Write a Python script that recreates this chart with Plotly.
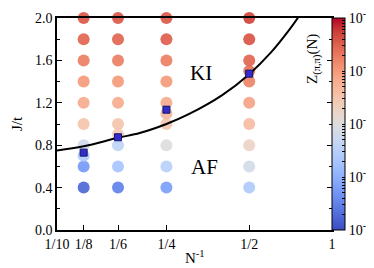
import plotly.graph_objects as go
import numpy as np

# ---- data ----
n_inv = [1/8]*10 + [1/6]*10 + [1/4]*10 + [1/2]*10
J_vals = ([0.4, 0.6, 0.7, 0.8, 1.0, 1.2, 1.4, 1.6, 1.8, 2.0] +
          [0.4, 0.6, 0.8, 0.9, 1.0, 1.2, 1.4, 1.6, 1.8, 2.0] +
          [0.4, 0.6, 0.8, 1.0, 1.1, 1.2, 1.4, 1.6, 1.8, 2.0] +
          [0.4, 0.6, 0.8, 1.0, 1.2, 1.4, 1.5, 1.6, 1.8, 2.0])
log10_Z = ([-4.75, -4.25, -3.6, -3.2, -2.5, -2.2, -2.0, -1.75, -1.55, -1.45] +
           [-4.5, -3.7, -3.4, -2.6, -2.5, -2.2, -2.0, -1.75, -1.55, -1.45] +
           [-4.2, -3.5, -3.0, -2.55, -2.35, -2.2, -2.0, -1.75, -1.5, -1.45] +
           [-3.6, -3.15, -2.75, -2.4, -2.1, -1.8, -1.65, -1.55, -1.42, -1.3])

crit_n_inv = [1/8, 1/6, 1/4, 1/2]
crit_J = [0.73, 0.875, 1.135, 1.475]

curve_n_inv = [0.1, 0.125, 1/6, 0.2, 0.25, 0.3, 0.4, 0.5, 0.6, 0.7, 0.76]
curve_J = [0.75, 0.79, 0.87, 0.915, 1.00, 1.09, 1.275, 1.47, 1.675, 1.89, 2.02]

x_tickvals = [0.1, 0.125, 1/6, 0.25, 0.5, 1.0]
x_ticktext = ["1/10", "1/8", "1/6", "1/4", "1/2", "1"]
cb_major = [-5, -4, -3, -2, -1]
cb_ticktext = ["10<sup>-5</sup>", "10<sup>-4</sup>", "10<sup>-3</sup>", "10<sup>-2</sup>", "10<sup>-1</sup>"]

coolwarm = [
    [0.0, "rgb(59,76,192)"], [0.0625, "rgb(77,104,215)"], [0.125, "rgb(98,130,234)"],
    [0.1875, "rgb(119,154,247)"], [0.25, "rgb(141,176,254)"], [0.3125, "rgb(163,194,255)"],
    [0.375, "rgb(184,208,249)"], [0.4375, "rgb(204,217,238)"], [0.5, "rgb(221,221,221)"],
    [0.5625, "rgb(236,211,197)"], [0.625, "rgb(245,196,173)"], [0.6875, "rgb(247,177,148)"],
    [0.75, "rgb(244,154,123)"], [0.8125, "rgb(236,127,99)"], [0.875, "rgb(222,96,77)"],
    [0.9375, "rgb(203,62,56)"], [1.0, "rgb(180,4,38)"]]

# colorbar ticks incl. minor
cb_tickvals, cb_text = [], []
for i, e in enumerate(cb_major):
    cb_tickvals.append(e); cb_text.append(cb_ticktext[i])
    if e < -1:
        for k in range(2, 10):
            cb_tickvals.append(e + np.log10(k)); cb_text.append("")

FONT = "Liberation Serif"
W, H = 374, 268
L, R, T, B = 49, 324, 10, 222

fig = go.Figure()
fig.add_trace(go.Scatter(
    x=n_inv, y=J_vals, mode="markers", cliponaxis=False,
    marker=dict(size=12, color=log10_Z, colorscale=coolwarm, cmin=-5, cmax=-1,
                opacity=0.92, line=dict(width=0),
                colorbar=dict(x=(324 - L) / (R - L), xanchor="left",
                              y=0.5, yanchor="middle",
                              len=1, lenmode="fraction", thickness=13,
                              xpad=0, ypad=0,
                              outlinecolor="black", outlinewidth=1,
                              tickvals=cb_tickvals, ticktext=cb_text,
                              ticks="inside", ticklen=3, tickcolor="black",
                              tickfont=dict(family=FONT, size=14, color="black"))),
    showlegend=False))
fig.add_trace(go.Scatter(
    x=curve_n_inv, y=curve_J, mode="lines", line=dict(color="black", width=2, shape="spline"),
    showlegend=False))
fig.add_trace(go.Scatter(
    x=crit_n_inv, y=crit_J, mode="markers", cliponaxis=False,
    marker=dict(symbol="square", size=7, color="rgb(50,45,200)",
                line=dict(color="rgb(20,20,110)", width=1)),
    showlegend=False))

fig.update_layout(
    width=W, height=H,
    margin=dict(l=L, r=W - R, t=T, b=H - B, autoexpand=False),
    plot_bgcolor="white", paper_bgcolor="white",
    font=dict(family=FONT, size=14, color="black"),
    xaxis=dict(type="log", range=[-1, 0], tickvals=x_tickvals, ticktext=x_ticktext,
               showgrid=False, zeroline=False, showline=True, linecolor="black", linewidth=1.5,
               mirror=True, ticks="inside", ticklen=5, tickcolor="black",
               tickfont=dict(family=FONT, size=14)),
    yaxis=dict(range=[0, 2.0], tickvals=[0, 0.4, 0.8, 1.2, 1.6, 2.0], tickformat=".1f",
               showgrid=False, zeroline=False, showline=True, linecolor="black", linewidth=1.5,
               mirror="ticks", ticks="inside", ticklen=5, tickcolor="black",
               minor=dict(dtick=0.2, ticks="inside", ticklen=3, tickcolor="black"),
               tickfont=dict(family=FONT, size=14)),
    annotations=[
        dict(text="KI", x=np.log10(0.334), y=1.48, xref="x", yref="y", showarrow=False,
             xanchor="center", yanchor="middle", font=dict(family=FONT, size=21)),
        dict(text="AF", x=np.log10(0.343), y=0.594, xref="x", yref="y", showarrow=False,
             xanchor="center", yanchor="middle", font=dict(family=FONT, size=21)),
        dict(text="J/t", x=(9 - L) / (R - L), y=0.5, xref="paper", yref="paper",
             xanchor="center", yanchor="middle",
             showarrow=False, textangle=-90, font=dict(family=FONT, size=15)),
        dict(text="N<sup>-1</sup>", x=0.5, y=-(249 - B) / (B - T), xref="paper", yref="paper",
             xanchor="center", yanchor="middle", showarrow=False, font=dict(family=FONT, size=15)),
        dict(text="Z<sub>(π,π)</sub>(N)", x=(305 - L) / (R - L), y=(B - 51) / (B - T),
             xref="paper", yref="paper", xanchor="center", yanchor="middle",
             showarrow=False, textangle=-90, font=dict(family=FONT, size=15)),
    ],
)

fig.write_html("out.html")
